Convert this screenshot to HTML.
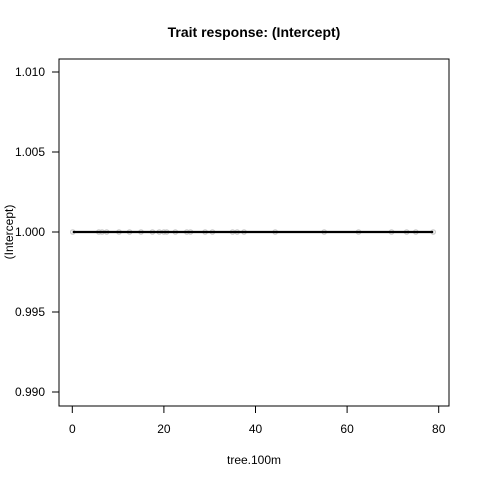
<!DOCTYPE html>
<html><head><meta charset="utf-8"><style>
body{margin:0;background:#fff}
svg{display:block;font-family:"Liberation Sans",Arial,sans-serif}
</style></head><body>
<svg id="chart" width="480" height="480">
<rect width="480" height="480" fill="#fff"/>
<text x="254" y="37" text-anchor="middle" font-size="14" font-weight="bold">Trait response: (Intercept)</text>
<rect x="59" y="59" width="390" height="347" fill="none" stroke="#000"/>
<g id="xaxis"></g>
<g id="yaxis"></g>
<g id="points"></g>
<g id="line"></g>
<text x="254" y="464" text-anchor="middle" font-size="12">tree.100m</text>
<text transform="translate(13,232) rotate(-90)" text-anchor="middle" font-size="12">(Intercept)</text>
</svg>
<script>
const xTicks=[0,20,40,60,80];
const yTicks=[0.990,0.995,1.000,1.005,1.010];
const yTickLabels=["0.990","0.995","1.000","1.005","1.010"];
const pointX=[0.1,5.8,6.5,7.5,10.2,12.5,15,17.5,19,20,20.6,22.5,25,25.8,29,30.6,35,36,37.5,44.3,55,62.5,69.7,73,75,78.8];
const pointY=[1,1,1,1,1,1,1,1,1,1,1,1,1,1,1,1,1,1,1,1,1,1,1,1,1,1];
const lineX=[0.1,78.8];
const lineY=[1,1];
const NS="http://www.w3.org/2000/svg";
const sx=v=>72.3+v*4.58;
const sy=v=>232-(v-1)*16000;
function mk(tag,attrs,parent){const e=document.createElementNS(NS,tag);for(const k in attrs)e.setAttribute(k,attrs[k]);parent.appendChild(e);return e;}
const xa=document.getElementById('xaxis');
mk('line',{x1:sx(xTicks[0]),x2:sx(xTicks[xTicks.length-1]),y1:406,y2:406,stroke:'#000'},xa);
xTicks.forEach(t=>{
 const l=mk('line',{x1:sx(t),x2:sx(t),y1:406,y2:413,stroke:'#000'},xa);
 
 
 const tx=mk('text',{x:sx(t),y:433,'text-anchor':'middle','font-size':12},xa);
 tx.textContent=t;
 
 
});
const ya=document.getElementById('yaxis');
mk('line',{x1:59,x2:59,y1:sy(yTicks[0]),y2:sy(yTicks[yTicks.length-1]),stroke:'#000'},ya);
yTicks.forEach((t,i)=>{
 const l=mk('line',{x1:52,x2:59,y1:sy(t),y2:sy(t),stroke:'#000'},ya);
 
 
 const tx=mk('text',{x:45,y:sy(t)+4,'text-anchor':'end','font-size':12},ya);
 tx.textContent=yTickLabels[i];
 
 
});
const pg=document.getElementById('points');
pointX.forEach((v,i)=>{
 const c=mk('circle',{cx:sx(v),cy:sy(pointY[i]),r:2.2,fill:'none',stroke:'#c8c8c8','stroke-width':1.2},pg);
 
 
});
const lg=document.getElementById('line');
const pl=mk('polyline',{points:lineX.map((v,i)=>sx(v)+','+sy(lineY[i])).join(' '),fill:'none',stroke:'#000','stroke-width':2.2},lg);


</script>
</body></html>
